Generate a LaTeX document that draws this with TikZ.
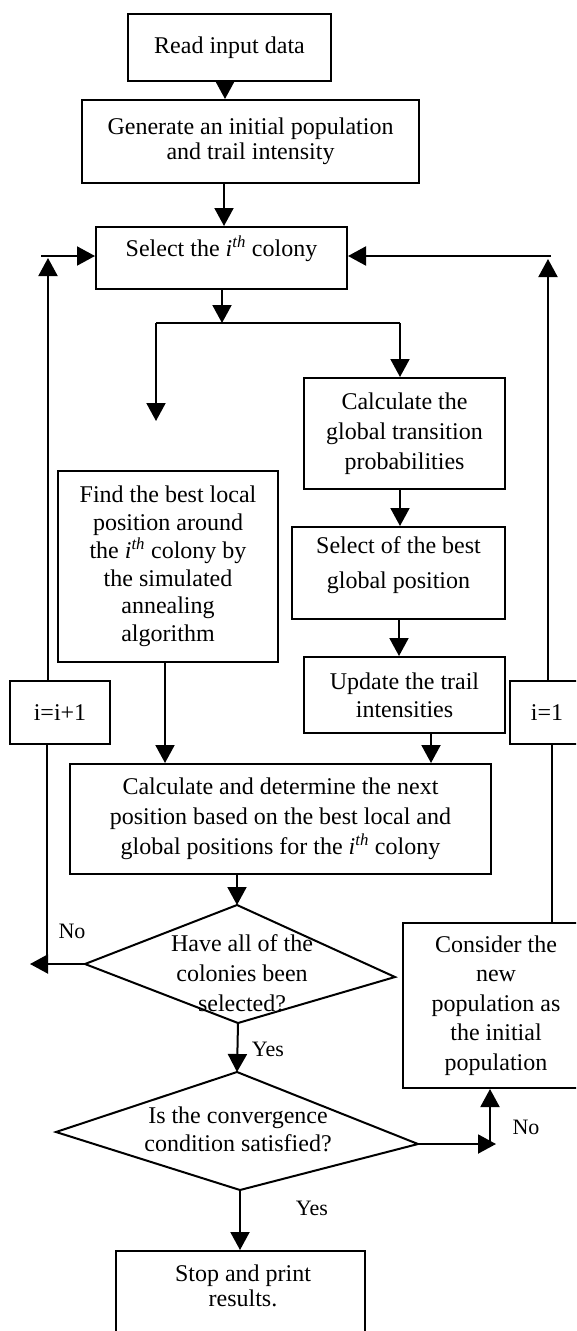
\documentclass[tikz,border=0pt]{standalone}
\usepackage{fontspec}
\setmainfont{Liberation Serif}
\usetikzlibrary{arrows.meta}
\newcommand\ith{\textit{i}\textsuperscript{\textit{th}}}
\newcommand\fs[1]{\fontsize{24}{#1}\selectfont}
\tikzset{
  box/.style={draw, line width=2pt, inner sep=0pt, align=center, font=\fs{28}},
  txt/.style={inner sep=0pt, align=center, font=\fs{28}},
  lbl/.style={inner sep=0pt, font=\fontsize{22}{26}\selectfont},
  ln/.style={line width=2pt},
  arr/.style={line width=2pt, -{Triangle[length=18pt,width=19pt]}},
}
\begin{document}
\begin{tikzpicture}[x=1pt,y=-1pt]
\useasboundingbox (0,0) rectangle (576,1331);
\clip (0,0) rectangle (576,1331);
% boxes
\node[box, minimum width=203pt, minimum height=67pt] (read) at (229.5,47.5) {Read input data};
\node[box, minimum width=337pt, minimum height=83pt, font=\fs{25}] (gen) at (250.5,141.5) {Generate an initial population\\and trail intensity};
\node[box, minimum width=251pt, minimum height=62pt] (sel) at (221.5,258) {};
\node[txt] (seltxt) at (221.5,249) {Select the \ith{} colony};
\node[box, minimum width=201pt, minimum height=111pt, font=\fs{30}] (calcg) at (404.5,433.5) {Calculate the\\global transition\\probabilities};
\node[box, minimum width=213pt, minimum height=92pt] (selb) at (398.5,573) {};
\node[txt, font=\fs{35}] (selbtxt) at (398.5,565.5) {Select of the best\\global position};
\node[box, minimum width=220pt, minimum height=191pt, font=\fs{27.8}] (find) at (168,566.5) {Find the best local\\position around\\the \ith{} colony by\\the simulated\\annealing\\algorithm};
\node[box, minimum width=201pt, minimum height=76pt] (upd) at (404.5,695) {Update the trail\\intensities};
\node[box, minimum width=421pt, minimum height=110pt, font=\fs{30}] (calcn) at (280.5,819) {Calculate and determine the next\\position based on the best local and\\global positions for the \ith{} colony};
\node[box, minimum width=100pt, minimum height=63pt] (inc) at (60,712.5) {i=i+1};
\node[box, minimum width=74pt, minimum height=63pt] (one) at (547,712.5) {i=1};
\node[box, minimum width=186pt, minimum height=165pt, font=\fs{29.5}] (cons) at (496,1005.5) {Consider the\\new\\population as\\the initial\\population};
\node[box, minimum width=249pt, minimum height=120pt] (stop) at (240.5,1311) {};
\node[txt, font=\fs{25}] (stoptxt) at (243,1285.5) {Stop and print\\results.};
% diamonds
\coordinate (d1t) at (237,905);
\coordinate (d1r) at (395,977);
\coordinate (d1b) at (238,1023);
\coordinate (d1l) at (85,964);
\draw[ln] (d1t) -- (d1r) -- (d1b) -- (d1l) -- cycle;
\node[txt, font=\fs{30}] (d1txt) at (242,973) {Have all of the\\colonies been\\selected?};
\coordinate (d2t) at (237,1072);
\coordinate (d2r) at (418,1144);
\coordinate (d2b) at (240,1190);
\coordinate (d2l) at (56,1132);
\draw[ln] (d2t) -- (d2r) -- (d2b) -- (d2l) -- cycle;
\node[txt] (d2txt) at (238,1129) {Is the convergence\\condition satisfied?};
% connectors
\draw[arr] (225,0 |- read.south) -- (225,0 |- gen.north);
\draw[arr] (224,0 |- gen.south) -- (224,0 |- sel.north);
\coordinate (j) at (222,323);
\coordinate (jl) at (156,323);
\coordinate (jr) at (400,323);
\coordinate (jle) at (156,421);
\draw[arr] (222,0 |- sel.south) -- (j);
\draw[ln] (jl) -- (jr);
\draw[arr] (jl) -- (jle);
\draw[arr] (jr) -- (400,0 |- calcg.north);
\draw[arr] (400,0 |- calcg.south) -- (400,0 |- selb.north);
\draw[arr] (399,0 |- selb.south) -- (399,0 |- upd.north);
\draw[arr] (431,0 |- upd.south) -- (431,0 |- calcn.north);
\draw[arr] (165,0 |- find.south) -- (165,0 |- calcn.north);
\draw[arr] (237,0 |- calcn.south) -- (d1t);
% left loop
\coordinate (noL) at (30,964);
\coordinate (lc) at (47,965);
\coordinate (lt) at (48,258);
\coordinate (ls) at (41,256);
\draw[arr] (d1l) -- (noL);
\draw[ln] (lc) -- (47,0 |- inc.south);
\draw[arr] (48,0 |- inc.north) -- (lt);
\draw[arr] (ls) -- (sel.west |- ls);
\node[lbl] (no1) at (72,931) {No};
% yes 1
\draw[arr] (d1b) -- (d2t);
\node[lbl] (yes1) at (268,1049) {Yes};
% right loop
\coordinate (nr) at (496,1144);
\coordinate (nu) at (490,1144);
\coordinate (rt) at (548,259);
\coordinate (rs) at (551,256);
\draw[arr] (d2r) -- (nr);
\draw[arr] (nu) -- (nu |- cons.south);
\node[lbl] (no2) at (526,1127) {No};
\draw[ln] (552,0 |- cons.north) -- (552,0 |- one.south);
\draw[arr] (548,0 |- one.north) -- (rt);
\draw[arr] (rs) -- (sel.east |- rs);
% yes 2
\draw[arr] (d2b) -- (d2b |- stop.north);
\node[lbl] (yes2) at (312,1208) {Yes};
\end{tikzpicture}
\end{document}
